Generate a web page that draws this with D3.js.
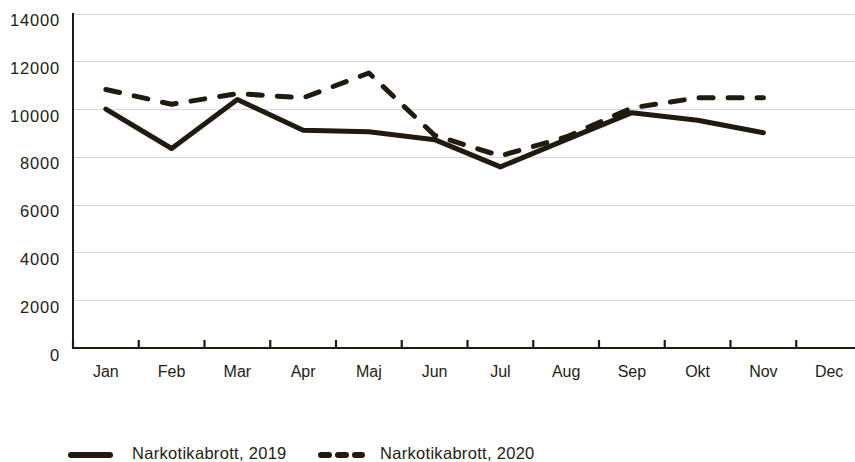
<!DOCTYPE html>
<html>
<head>
<meta charset="utf-8">
<script src="https://cdn.jsdelivr.net/npm/d3@7"></script>
<style>
  body { margin: 0; background: #fff; }
  text { font-family: "Liberation Sans", Arial, sans-serif; fill: #241d13; }
</style>
</head>
<body>
<div id="chart"></div>
<script>
var months = ['Jan', 'Feb', 'Mar', 'Apr', 'Maj', 'Jun', 'Jul', 'Aug', 'Sep', 'Okt', 'Nov', 'Dec'];
var yTicks = [0, 2000, 4000, 6000, 8000, 10000, 12000, 14000];
var values2019 = [10000, 8350, 10400, 9110, 9050, 8720, 7580, 8720, 9850, 9530, 9010];
var values2020 = [10820, 10200, 10650, 10470, 11510, 8900, 8040, 8830, 10050, 10470, 10470];
var seriesNames = ['Narkotikabrott, 2019', 'Narkotikabrott, 2020'];

var ink = '#211a0f';
var width = 855, height = 462;

var svg = d3.select('#chart')
    .append('svg')
    .attr('width', width)
    .attr('height', height);

var x = d3.scaleBand()
    .domain(months)
    .range([73, 862]);

var y = d3.scaleLinear()
    .domain([0, 14000])
    .range([348, 13.5]);

// gridlines
svg.append('g')
    .selectAll('line')
    .data(yTicks.slice(1))
    .enter().append('line')
    .attr('x1', 73)
    .attr('x2', width)
    .attr('y1', function(d) { return Math.round(y(d)) + 0.5; })
    .attr('y2', function(d) { return Math.round(y(d)) + 0.5; })
    .attr('stroke', '#d6d6d6')
    .attr('stroke-width', 1.2);

// y labels
svg.append('g')
    .selectAll('text')
    .data(yTicks)
    .enter().append('text')
    .attr('x', 60)
    .attr('y', function(d) { return y(d) + 12.5; })
    .attr('text-anchor', 'end')
    .style('font-size', '16.5px')
    .style('letter-spacing', '0.8px')
    .text(function(d) { return d; });

// y axis line
svg.append('line')
    .attr('x1', 73).attr('x2', 73)
    .attr('y1', 13).attr('y2', 349)
    .attr('stroke', ink)
    .attr('stroke-width', 2);

// x axis line and ticks
svg.append('line')
    .attr('x1', 72).attr('x2', width)
    .attr('y1', 348).attr('y2', 348)
    .attr('stroke', ink)
    .attr('stroke-width', 2);

svg.append('g')
    .selectAll('line')
    .data(months)
    .enter().append('line')
    .attr('x1', function(d) { return x(d); })
    .attr('x2', function(d) { return x(d); })
    .attr('y1', 340)
    .attr('y2', 348)
    .attr('stroke', ink)
    .attr('stroke-width', 2.2);

svg.append('g')
    .selectAll('text')
    .data(months)
    .enter().append('text')
    .attr('x', function(d) { return x(d) + x.bandwidth() / 2; })
    .attr('y', 377)
    .attr('text-anchor', 'middle')
    .style('font-size', '16px')
    .text(function(d) { return d; });

var line = d3.line()
    .x(function(d, i) { return x(months[i]) + x.bandwidth() / 2; })
    .y(function(d) { return y(d); });

svg.append('path')
    .datum(values2020)
    .attr('d', line)
    .attr('fill', 'none')
    .attr('stroke', ink)
    .attr('stroke-width', 5)
    .attr('stroke-linecap', 'round')
    .attr('stroke-linejoin', 'round')
    .attr('stroke-dasharray', '14,15');

svg.append('path')
    .datum(values2019)
    .attr('d', line)
    .attr('fill', 'none')
    .attr('stroke', ink)
    .attr('stroke-width', 5)
    .attr('stroke-linecap', 'round')
    .attr('stroke-linejoin', 'round');

// legend
var legend = svg.append('g');

legend.append('line')
    .attr('x1', 71).attr('x2', 110)
    .attr('y1', 455).attr('y2', 455)
    .attr('stroke', ink)
    .attr('stroke-width', 6)
    .attr('stroke-linecap', 'round');

legend.append('text')
    .attr('x', 132)
    .attr('y', 459)
    .style('font-size', '16.5px')
    .style('letter-spacing', '0.3px')
    .text(seriesNames[0]);

legend.append('line')
    .attr('x1', 321).attr('x2', 362)
    .attr('y1', 455).attr('y2', 455)
    .attr('stroke', ink)
    .attr('stroke-width', 6)
    .attr('stroke-linecap', 'round')
    .attr('stroke-dasharray', '8,9');

legend.append('text')
    .attr('x', 380)
    .attr('y', 459)
    .style('font-size', '16.5px')
    .style('letter-spacing', '0.3px')
    .text(seriesNames[1]);
</script>
</body>
</html>
